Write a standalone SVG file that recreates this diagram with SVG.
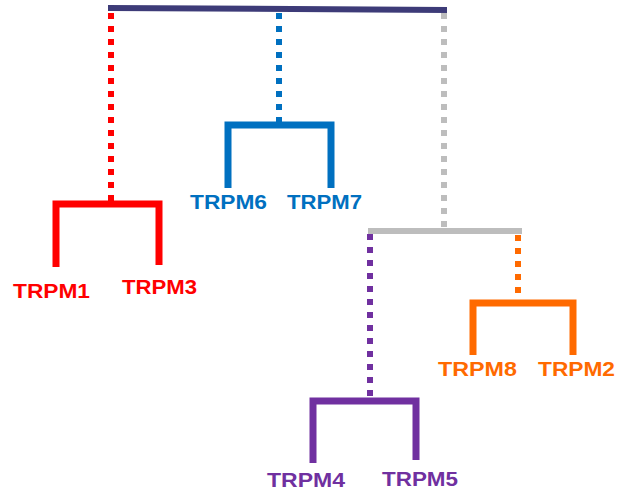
<svg xmlns="http://www.w3.org/2000/svg" width="617" height="495" viewBox="0 0 617 495">
<style>
.br{fill:none;stroke-width:7;stroke-linejoin:miter;stroke-linecap:butt}
.dot{fill:none;stroke-width:6;stroke-dasharray:6 7}
.lbl{font-family:"Liberation Sans",Arial,sans-serif;font-weight:bold;font-size:21px}
.red{stroke:#ff0000}.blue{stroke:#0070c0}.gray{stroke:#bdbdbd}.orange{stroke:#ff6a00}.purple{stroke:#7030a0}
</style>
<rect width="617" height="495" fill="#ffffff"/>
<g id="connectors">
<line x1="108" y1="8" x2="447" y2="10" stroke="#3d3b78" stroke-width="6"/>
<line class="dot red" x1="111" y1="13" x2="111" y2="201"/>
<line class="dot blue" x1="279" y1="13" x2="279" y2="122"/>
<line class="dot gray" x1="444" y1="13" x2="444" y2="228"/>
<line x1="368" y1="231" x2="522" y2="231" stroke="#bdbdbd" stroke-width="6"/>
<line class="dot purple" x1="370" y1="234" x2="370" y2="398"/>
<line class="dot orange" x1="518" y1="235" x2="518" y2="300"/>
</g>
<g id="node-trpm1-3">
<path class="br red" d="M56 267 V204 H159 V265"/>
<text class="lbl" x="13" y="298" fill="#ff0000" textLength="77" lengthAdjust="spacingAndGlyphs">TRPM1</text>
<text class="lbl" x="122" y="294" fill="#ff0000" textLength="75" lengthAdjust="spacingAndGlyphs">TRPM3</text>
</g>
<g id="node-trpm6-7">
<path class="br blue" d="M228 188 V125 H331 V188"/>
<text class="lbl" x="190" y="209" fill="#0070c0" textLength="77" lengthAdjust="spacingAndGlyphs">TRPM6</text>
<text class="lbl" x="287" y="209" fill="#0070c0" textLength="75" lengthAdjust="spacingAndGlyphs">TRPM7</text>
</g>
<g id="node-trpm8-2">
<path class="br orange" d="M473 355 V303 H573 V355"/>
<text class="lbl" x="438" y="376" fill="#ff6a00" textLength="79" lengthAdjust="spacingAndGlyphs">TRPM8</text>
<text class="lbl" x="538" y="376" fill="#ff6a00" textLength="77" lengthAdjust="spacingAndGlyphs">TRPM2</text>
</g>
<g id="node-trpm4-5">
<path class="br purple" d="M313 463 V401 H416 V460"/>
<text class="lbl" x="267" y="487" fill="#7030a0" textLength="78" lengthAdjust="spacingAndGlyphs">TRPM4</text>
<text class="lbl" x="382" y="486" fill="#7030a0" textLength="76" lengthAdjust="spacingAndGlyphs">TRPM5</text>
</g>
</svg>
